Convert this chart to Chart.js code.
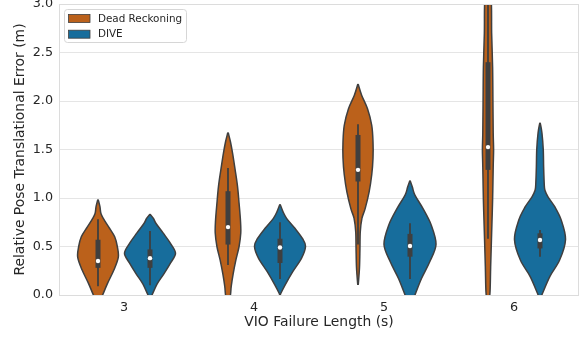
<!DOCTYPE html>
<html><head><meta charset="utf-8">
<script src="https://cdn.jsdelivr.net/npm/chart.js@4.4.1/dist/chart.umd.min.js"></script>
<style>html,body{margin:0;padding:0;background:#fff;}canvas{display:block;}</style>
</head><body>
<canvas id="c" width="587" height="338"></canvas>
<script>
const categories = ['3', '4', '5', '6'];
const seriesNames = ['Dead Reckoning', 'DIVE'];
const seriesColors = ['#bb611b', '#176d9c'];
const yTickValues = [0, 0.5, 1, 1.5, 2, 2.5, 3];
const xAxisTitle = 'VIO Failure Length (s)';
const yAxisTitle = 'Relative Pose Translational Error (m)';

// Kernel density profiles: error levels (m) and normalized density
const drLevels3 = [-0.12, -0.05, 0, 0.12, 0.26, 0.39, 0.5, 0.6, 0.7, 0.78, 0.84, 0.91, 0.98];
const drDensity3 = [0, 0.075, 0.177, 0.366, 0.615, 0.781, 0.743, 0.642, 0.415, 0.226, 0.113, 0.075, 0.011];
const drLevels4 = [-0.1, 0.0, 0.09, 0.22, 0.36, 0.5, 0.64, 0.77, 0.945, 1.12, 1.29, 1.46, 1.58, 1.67];
const drDensity4 = [0.019, 0.094, 0.125, 0.2, 0.302, 0.426, 0.491, 0.479, 0.426, 0.366, 0.275, 0.177, 0.094, 0.011];
const drLevels5 = [0.11, 0.28, 0.48, 0.65, 0.79, 0.89, 1.06, 1.24, 1.41, 1.58, 1.75, 1.92, 2.06, 2.17];
const drDensity5 = [0.011, 0.057, 0.075, 0.087, 0.151, 0.275, 0.426, 0.528, 0.577, 0.577, 0.528, 0.366, 0.14, 0.011];
const drLevels6 = [-0.1, 0.02, 0.29, 0.64, 0.98, 1.32, 1.5, 1.67, 2.01, 2.35, 2.7, 2.99, 3.3, 3.5];
const drDensity6 = [0, 0.075, 0.102, 0.14, 0.177, 0.2, 0.215, 0.2, 0.189, 0.177, 0.14, 0.132, 0.075, 0.011];

const diveLevels3 = [-0.03, 0, 0.12, 0.22, 0.33, 0.43, 0.53, 0.64, 0.74, 0.79, 0.83];
const diveDensity3 = [0, 0.075, 0.287, 0.54, 0.792, 0.981, 0.792, 0.502, 0.226, 0.132, 0.011];
const diveLevels4 = [-0.01, 0.02, 0.1, 0.24, 0.38, 0.5, 0.58, 0.69, 0.79, 0.86, 0.93];
const diveDensity4 = [0, 0.038, 0.189, 0.491, 0.83, 0.981, 0.868, 0.566, 0.253, 0.113, 0.011];
const diveLevels5 = [-0.12, -0.08, 0, 0.17, 0.34, 0.52, 0.72, 0.89, 1.03, 1.11, 1.175];
const diveDensity5 = [0, 0.057, 0.189, 0.442, 0.755, 1.0, 0.819, 0.502, 0.189, 0.094, 0.011];
const diveLevels6 = [-0.05, 0.02, 0.19, 0.36, 0.57, 0.77, 0.91, 1.01, 1.08, 1.15, 1.32, 1.5, 1.67, 1.77];
const diveDensity6 = [0, 0.102, 0.377, 0.755, 0.981, 0.819, 0.566, 0.313, 0.189, 0.162, 0.14, 0.125, 0.075, 0.011];

// Box statistics per category
const drMedian = [0.35, 0.70, 1.29, 1.525];
const drQ1 = [0.28, 0.52, 1.17, 1.29];
const drQ3 = [0.57, 1.07, 1.65, 2.40];
const drWhiskerLow = [0.09, 0.31, 0.52, 0.58];
const drWhiskerHigh = [0.78, 1.31, 1.76, 3.3];
const diveMedian = [0.38, 0.49, 0.505, 0.567];
const diveQ1 = [0.28, 0.33, 0.395, 0.48];
const diveQ3 = [0.47, 0.58, 0.63, 0.636];
const diveWhiskerLow = [0.10, 0.165, 0.165, 0.395];
const diveWhiskerHigh = [0.66, 0.75, 0.74, 0.67];

const series = [
  { name: seriesNames[0], color: seriesColors[0],
    levels: [drLevels3, drLevels4, drLevels5, drLevels6],
    density: [drDensity3, drDensity4, drDensity5, drDensity6],
    median: drMedian, q1: drQ1, q3: drQ3, wlo: drWhiskerLow, whi: drWhiskerHigh },
  { name: seriesNames[1], color: seriesColors[1],
    levels: [diveLevels3, diveLevels4, diveLevels5, diveLevels6],
    density: [diveDensity3, diveDensity4, diveDensity5, diveDensity6],
    median: diveMedian, q1: diveQ1, q3: diveQ3, wlo: diveWhiskerLow, whi: diveWhiskerHigh }
];

const GROUP_WIDTH = 0.8;
const DODGE = GROUP_WIDTH / series.length;
const HALF = DODGE / 2;
const EDGE = '#3f3f3f';
const TEXT = '#262626';
const FONT = 'DejaVu Sans';

function offsetFor(si) { return (si - (series.length - 1) / 2) * DODGE; }

function spline(ctx, pts, move) {
  if (move) ctx.moveTo(pts[0].x, pts[0].y); else ctx.lineTo(pts[0].x, pts[0].y);
  for (let i = 0; i < pts.length - 1; i++) {
    const p0 = pts[Math.max(i - 1, 0)], p1 = pts[i], p2 = pts[i + 1], p3 = pts[Math.min(i + 2, pts.length - 1)];
    ctx.bezierCurveTo(p1.x + (p2.x - p0.x) / 6, p1.y + (p2.y - p0.y) / 6,
                      p2.x - (p3.x - p1.x) / 6, p2.y - (p3.y - p1.y) / 6, p2.x, p2.y);
  }
}

const violinPlugin = {
  id: 'violins',
  beforeDatasetsDraw(chart) {
    const { ctx, chartArea: a, scales: { x, y } } = chart;
    const catPx = x.getPixelForValue(1) - x.getPixelForValue(0);
    ctx.save();
    ctx.beginPath(); ctx.rect(a.left, a.top, a.right - a.left, a.bottom - a.top); ctx.clip();
    series.forEach((s, si) => {
      categories.forEach((c, ci) => {
        const cx = x.getPixelForValue(ci + offsetFor(si));
        const lv = s.levels[ci], dn = s.density[ci];
        const right = lv.map((v, k) => ({ x: cx + dn[k] * HALF * catPx, y: y.getPixelForValue(v) }));
        const left = lv.map((v, k) => ({ x: cx - dn[k] * HALF * catPx, y: y.getPixelForValue(v) })).reverse();
        ctx.beginPath();
        spline(ctx, right, true);
        spline(ctx, left, false);
        ctx.closePath();
        ctx.fillStyle = s.color; ctx.fill();
        ctx.lineWidth = 1.5; ctx.strokeStyle = EDGE; ctx.lineJoin = 'round'; ctx.stroke();
        // whisker
        ctx.beginPath();
        ctx.moveTo(cx, y.getPixelForValue(s.wlo[ci]));
        ctx.lineTo(cx, y.getPixelForValue(s.whi[ci]));
        ctx.lineWidth = 1.8; ctx.lineCap = 'butt'; ctx.stroke();
        // box
        ctx.beginPath();
        ctx.moveTo(cx, y.getPixelForValue(s.q1[ci]));
        ctx.lineTo(cx, y.getPixelForValue(s.q3[ci]));
        ctx.lineWidth = 5; ctx.stroke();
      });
    });
    ctx.restore();
  },
  afterDatasetsDraw(chart) {
    const { ctx, chartArea: a } = chart;
    ctx.save();
    ctx.strokeStyle = '#dcdcdc'; ctx.lineWidth = 1;
    ctx.strokeRect(Math.round(a.left) + 0.5, Math.round(a.top) + 0.5,
                   Math.round(a.right - a.left) - 1, Math.round(a.bottom - a.top));
    ctx.restore();
  },
  afterDraw(chart) {
    const { ctx, chartArea: a } = chart;
    const lx = a.left + 5.5, ly = a.top + 5.5, lw = 122, lh = 33;
    ctx.save();
    ctx.beginPath();
    if (ctx.roundRect) ctx.roundRect(lx, ly, lw, lh, 3); else ctx.rect(lx, ly, lw, lh);
    ctx.fillStyle = 'rgba(255,255,255,0.8)'; ctx.fill();
    ctx.strokeStyle = '#d6d6d6'; ctx.lineWidth = 1; ctx.stroke();
    series.forEach((s, i) => {
      const sy = ly + 5 + i * 15.7;
      ctx.fillStyle = s.color;
      ctx.fillRect(lx + 4, sy, 21.5, 8);
      ctx.strokeStyle = EDGE; ctx.lineWidth = 0.8;
      ctx.strokeRect(lx + 4, sy, 21.5, 8);
      ctx.fillStyle = TEXT;
      ctx.font = '10.4px "' + FONT + '"';
      ctx.textBaseline = 'middle'; ctx.textAlign = 'left';
      ctx.fillText(s.name, lx + 33.4, sy + 4.5);
    });
    ctx.restore();
  }
};

const datasets = series.map((s, si) => ({
  label: s.name,
  data: categories.map((c, ci) => ({ x: ci + offsetFor(si), y: s.median[ci] })),
  pointRadius: 2.2, pointBackgroundColor: '#ffffff', pointBorderWidth: 0, showLine: false
}));

new Chart(document.getElementById('c'), {
  type: 'scatter',
  data: { datasets },
  plugins: [violinPlugin],
  options: {
    responsive: false, animation: false, devicePixelRatio: 1,
    layout: { padding: { top: 4, right: 8, left: 0, bottom: 0 } },
    plugins: { legend: { display: false }, tooltip: { enabled: false } },
    scales: {
      x: {
        type: 'linear', min: -0.5, max: 3.5,
        afterBuildTicks: s => { s.ticks = categories.map((c, i) => ({ value: i })); },
        ticks: { callback: v => categories[Math.round(v)], color: TEXT, font: { family: FONT, size: 12.75 }, padding: 5.5, maxRotation: 0, autoSkip: false },
        grid: { display: false, drawTicks: false }, border: { display: false },
        title: { display: true, text: xAxisTitle, color: TEXT, font: { family: FONT, size: 13.9 }, padding: { top: 0, bottom: 7 } },
        afterFit: s => { s.height = 43; s.paddingLeft = 0; s.paddingRight = 0; }
      },
      y: {
        min: 0, max: 3,
        afterBuildTicks: s => { s.ticks = yTickValues.map(v => ({ value: v })); },
        ticks: { callback: v => Number(v).toFixed(1), color: TEXT, font: { family: FONT, size: 12.75 }, padding: 6 },
        grid: { color: '#e5e5e5', lineWidth: 1, drawTicks: false }, border: { display: false },
        title: { display: true, text: yAxisTitle, color: TEXT, font: { family: FONT, size: 13.9 }, padding: { top: 12, bottom: 0 } },
        afterFit: s => { s.width = 59; s.paddingTop = 0; s.paddingBottom = 0; }
      }
    }
  }
});
</script>
</body></html>
